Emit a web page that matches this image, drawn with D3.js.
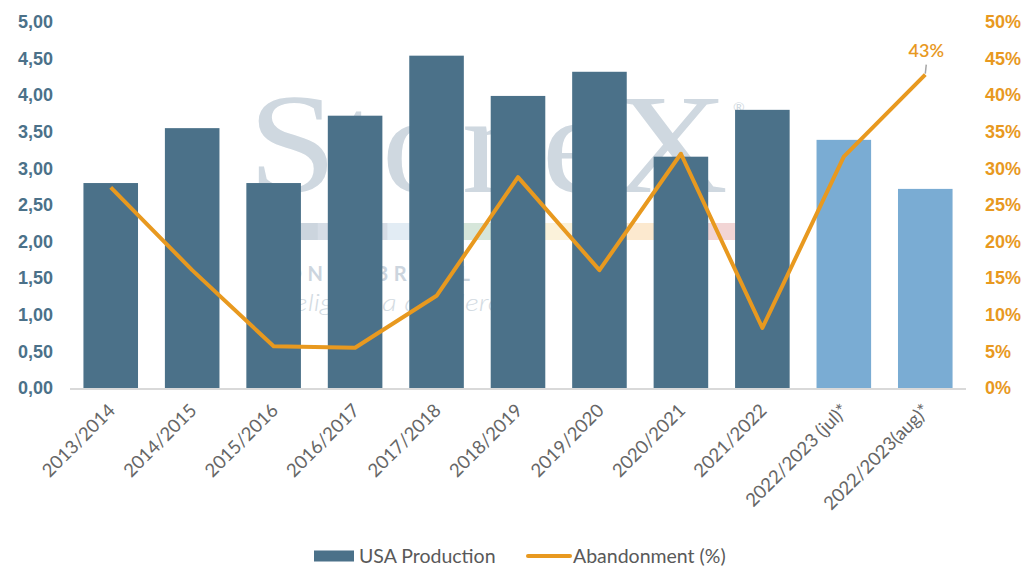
<!DOCTYPE html>
<html>
<head>
<meta charset="utf-8">
<script src="https://cdn.jsdelivr.net/npm/d3@7"></script>
<style>
  body { margin: 0; background: #fff; }
  svg { display: block; font-family: Lato, "Open Sans", sans-serif; }
</style>
</head>
<body>
<div id="chart"></div>
<script>
// dados do gráfico
const seasons = ['2013/2014', '2014/2015', '2015/2016', '2016/2017', '2017/2018', '2018/2019',
  '2019/2020', '2020/2021', '2021/2022', '2022/2023 (jul)*', '2022/2023(aug)*'];
const production = [2.80, 3.55, 2.80, 3.72, 4.54, 3.99, 4.32, 3.16, 3.80, 3.39, 2.72];
const abandonment = [27.4, 16.1, 5.7, 5.5, 12.6, 28.8, 16.1, 32.0, 8.2, 31.6, 42.8];
const leftTicks = [0, 0.5, 1, 1.5, 2, 2.5, 3, 3.5, 4, 4.5, 5];
const rightTicks = [0, 5, 10, 15, 20, 25, 30, 35, 40, 45, 50];

const W = 1036, H = 587;
const plotLeft = 70, plotRight = 966, plotTop = 22, plotBottom = 388;

const svg = d3.select('#chart').append('svg')
  .attr('width', W)
  .attr('height', H);

// marca d'água
const wm = svg.append('g').attr('class', 'watermark');
wm.append('text')
  .attr('x', 248).attr('y', 192)
  .attr('textLength', 480).attr('lengthAdjust', 'spacingAndGlyphs')
  .style('font-family', '"Liberation Serif", "DejaVu Serif", serif')
  .style('font-size', '142px')
  .style('fill', '#cfd8e0')
  .text('StoneX');
wm.append('text')
  .attr('x', 733).attr('y', 112)
  .style('font-size', '14px').style('fill', '#cfd8e0')
  .text('®');
const stripColors = ['#ccd5de', '#d6dde6', '#e2ecf4', '#d6e6da', '#fbf2da', '#fce9cf', '#f2d5d5'];
const stripX = d3.scaleBand().domain(d3.range(stripColors.length)).range([248, 736]);
wm.selectAll('rect.strip')
  .data(stripColors)
  .enter().append('rect')
  .attr('class', 'strip')
  .attr('x', (d, i) => stripX(i))
  .attr('y', 223)
  .attr('width', stripX.bandwidth() + 0.5)
  .attr('height', 17)
  .attr('fill', d => d);
wm.append('text')
  .attr('x', 252).attr('y', 281)
  .attr('textLength', 218).attr('lengthAdjust', 'spacing')
  .style('font-size', '20px').style('font-weight', 'bold')
  .style('fill', '#ccd5de')
  .text('STONEX BRASIL');
wm.append('text')
  .attr('x', 262).attr('y', 311)
  .attr('textLength', 284).attr('lengthAdjust', 'spacingAndGlyphs')
  .style('font-size', '23px').style('font-style', 'italic').style('font-weight', 300)
  .style('fill', '#d3dbe2')
  .text('Inteligência de Mercado');

// escalas
const x = d3.scaleBand()
  .domain(seasons)
  .range([plotLeft, plotRight])
  .paddingInner(0.33)
  .paddingOuter(0.165);

const y = d3.scaleLinear().domain([0, 5]).range([plotBottom, plotTop]);
const y2 = d3.scaleLinear().domain([0, 50]).range([plotBottom, plotTop]);

// barras
svg.append('g')
  .selectAll('rect')
  .data(production)
  .enter().append('rect')
  .attr('x', (d, i) => x(seasons[i]))
  .attr('y', d => y(d))
  .attr('width', x.bandwidth())
  .attr('height', d => y(0) - y(d))
  .attr('fill', (d, i) => seasons[i].endsWith('*') ? '#7aacd3' : '#4b7189');

// linha do eixo x
svg.append('line')
  .attr('x1', plotLeft).attr('x2', plotRight)
  .attr('y1', plotBottom + 1).attr('y2', plotBottom + 1)
  .attr('stroke', '#d9d9d9')
  .attr('stroke-width', 2);

// eixo esquerdo
const fmtLeft = v => d3.format('.2f')(v).replace('.', ',');
const yAxis = svg.append('g')
  .attr('transform', `translate(53,0)`)
  .call(d3.axisLeft(y).tickValues(leftTicks).tickFormat(fmtLeft).tickSize(0).tickPadding(0));
yAxis.select('.domain').remove();
yAxis.selectAll('text')
  .style('font-size', '18px').style('font-weight', 600)
  .style('fill', '#4b7189');

// eixo direito
const y2Axis = svg.append('g')
  .attr('transform', `translate(985,0)`)
  .call(d3.axisRight(y2).tickValues(rightTicks).tickFormat(d => d + '%').tickSize(0).tickPadding(0));
y2Axis.select('.domain').remove();
y2Axis.selectAll('text')
  .style('font-size', '18px').style('font-weight', 600)
  .style('fill', '#e8991f');

// rótulos do eixo x
svg.append('g')
  .selectAll('text')
  .data(seasons)
  .enter().append('text')
  .attr('transform', d => `translate(${x(d) + x.bandwidth() / 2 + 1},${plotBottom + 19}) rotate(-45)`)
  .attr('text-anchor', 'end')
  .attr('dy', '0.35em')
  .style('font-size', '18.5px')
  .style('fill', '#666666')
  .text(d => d);

// linha de abandono
const line = d3.line()
  .x((d, i) => x(seasons[i]) + x.bandwidth() / 2)
  .y(d => y2(d));

svg.append('path')
  .datum(abandonment)
  .attr('d', line)
  .attr('fill', 'none')
  .attr('stroke', '#e8991f')
  .attr('stroke-width', 4)
  .attr('stroke-linejoin', 'round');

// rótulo do último ponto
const lastI = abandonment.length - 1;
const lx = x(seasons[lastI]) + x.bandwidth() / 2;
const ly = y2(abandonment[lastI]);
svg.append('line')
  .attr('x1', lx + 1).attr('y1', ly - 10)
  .attr('x2', lx).attr('y2', ly - 1)
  .attr('stroke', '#a6a6a6').attr('stroke-width', 1.5);
svg.append('text')
  .attr('x', lx + 1).attr('y', ly - 18)
  .attr('text-anchor', 'middle')
  .style('font-size', '18px').style('font-weight', 600)
  .style('fill', '#e8991f')
  .text(Math.round(abandonment[lastI]) + '%');

// legenda
const legend = svg.append('g').attr('transform', 'translate(314,556)');
legend.append('rect')
  .attr('x', 0).attr('y', -5.5)
  .attr('width', 40).attr('height', 11)
  .attr('fill', '#4b7189');
legend.append('text')
  .attr('x', 45).attr('y', 0).attr('dy', '0.35em')
  .style('font-size', '19.5px').style('fill', '#595959')
  .text('USA Production');
legend.append('line')
  .attr('x1', 214).attr('x2', 256)
  .attr('y1', 0).attr('y2', 0)
  .attr('stroke', '#e8991f').attr('stroke-width', 4)
  .attr('stroke-linecap', 'round');
legend.append('text')
  .attr('x', 259).attr('y', 0).attr('dy', '0.35em')
  .style('font-size', '19.5px').style('fill', '#595959')
  .text('Abandonment (%)');
</script>
</body>
</html>
